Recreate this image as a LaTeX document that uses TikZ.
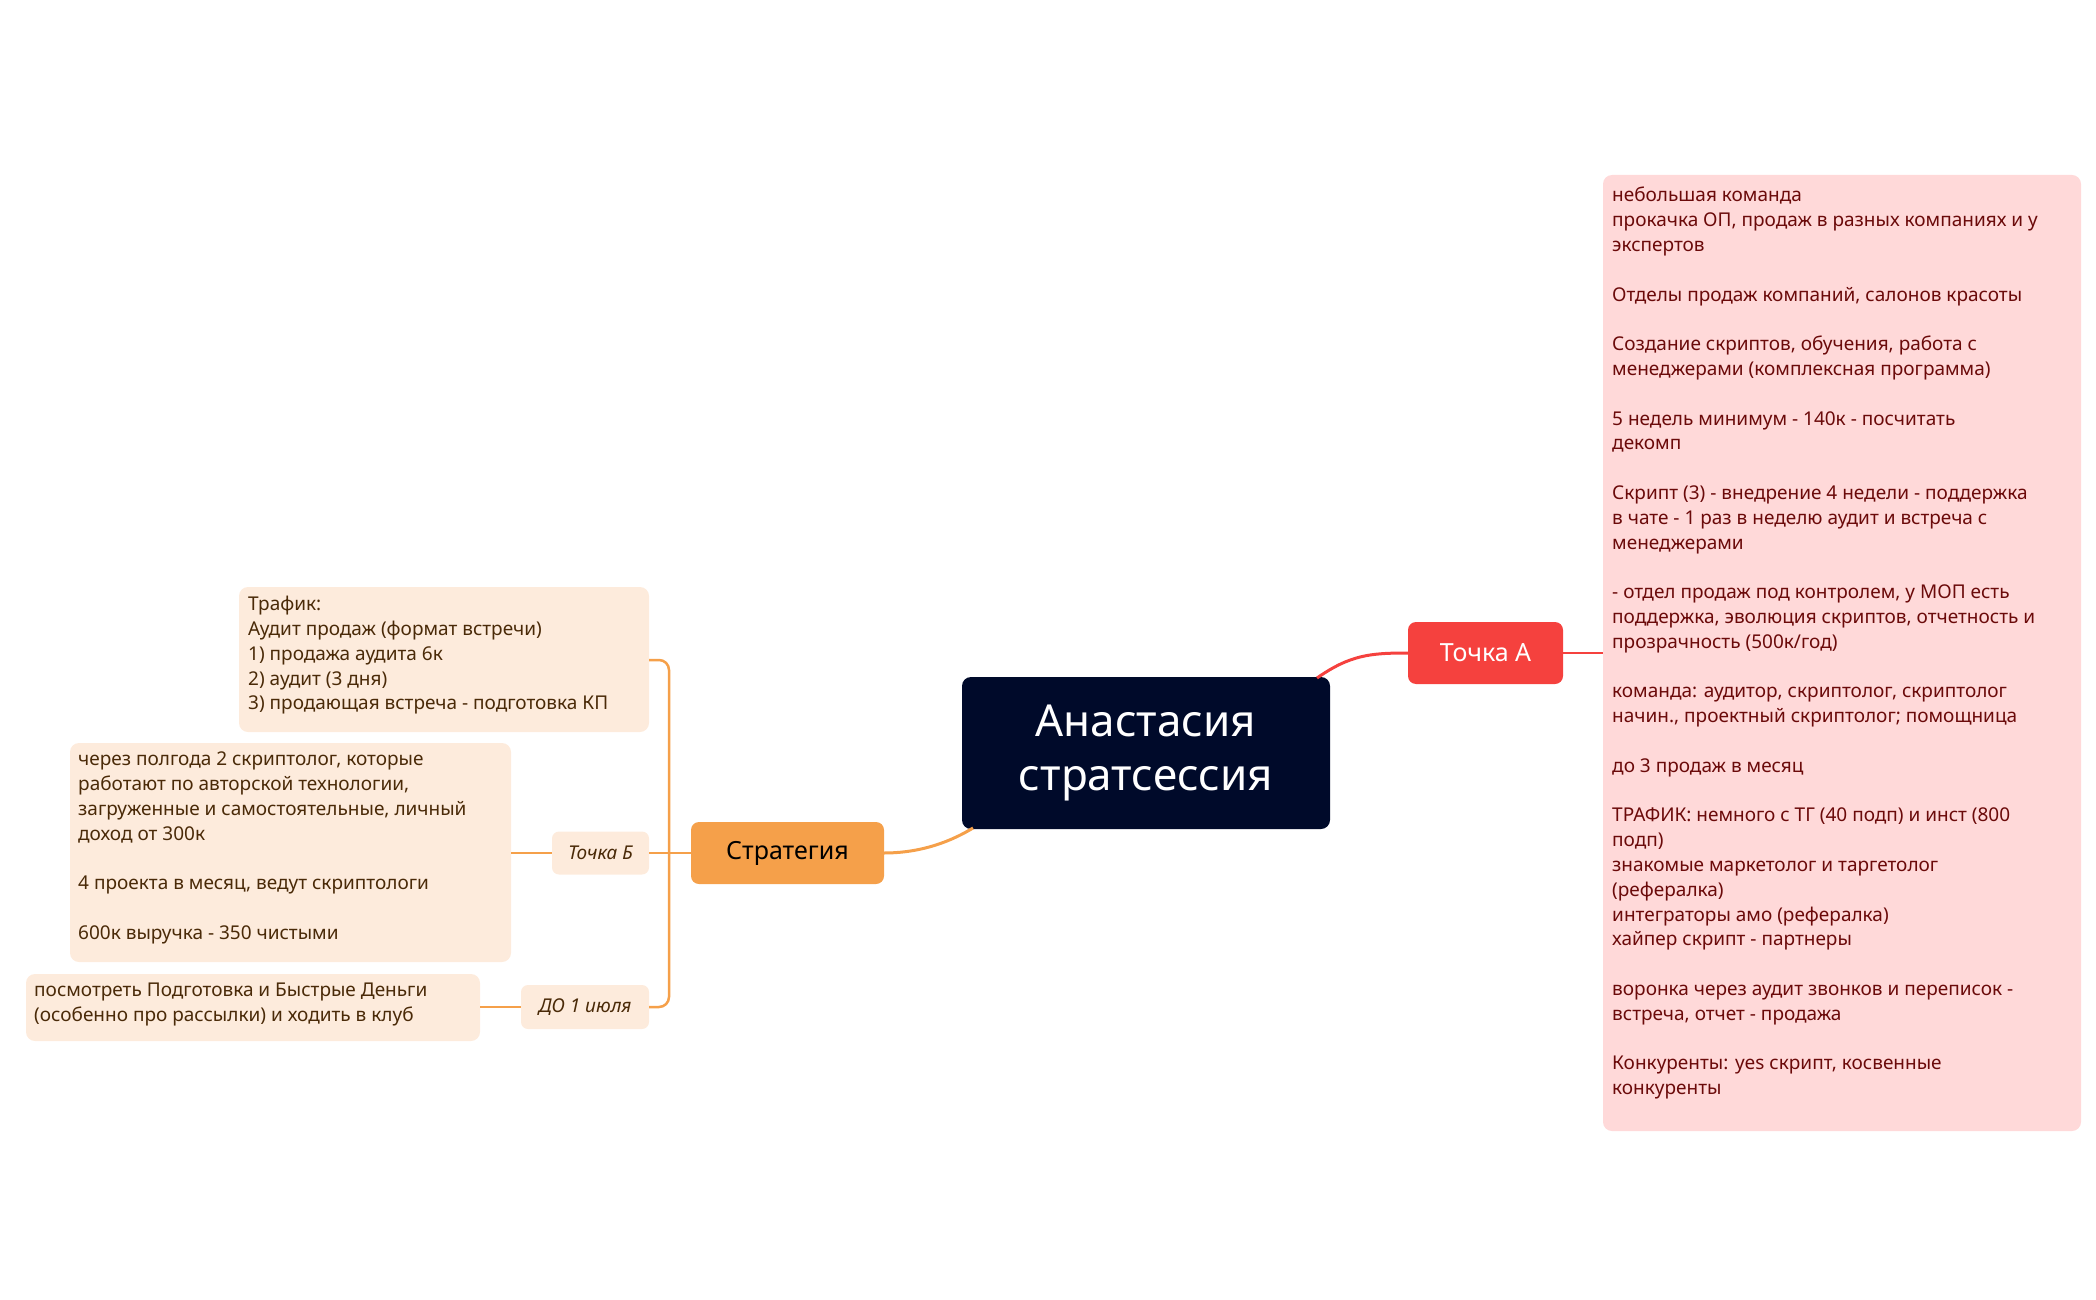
\documentclass[tikz,border=0pt]{standalone}
\usepackage{fontspec}
\setmainfont{Noto Sans}
\usetikzlibrary{positioning}
\definecolor{navy}{HTML}{000A2A}
\definecolor{redA}{HTML}{F5413E}
\definecolor{pinkbg}{HTML}{FFD9D9}
\definecolor{pinktx}{HTML}{6B0A0A}
\definecolor{orangeS}{HTML}{F5A04A}
\definecolor{peach}{HTML}{FDEBDC}
\definecolor{browntx}{HTML}{4A2A08}
\tikzset{
  notebox/.style={rounded corners=8pt,inner sep=0pt,anchor=north west},
  notetext/.style={align=left,anchor=north west,inner sep=0pt,font=\fontsize{19}{24.8}\selectfont},
  label/.style={rounded corners=7pt,fill=peach,text=browntx,font=\fontsize{19}{22}\selectfont\bfseries\itshape}
}
\begin{document}
\begin{tikzpicture}[x=1pt,y=-1pt]
	\useasboundingbox (0,0) rectangle (2096,1300);
	% centre
	\fill[navy,rounded corners=9pt] (962,677) rectangle (1330,829);
	\node[text=white,align=center,font=\fontsize{44}{54}\selectfont\bfseries] (root) at (1146,753) {Анастасия\\стратсессия};
	\coordinate (rootNE) at (1317,678);
	\coordinate (rootSW) at (973,828);
	% Точка А
	\node[fill=redA,text=white,rounded corners=8pt,minimum width=155pt,minimum height=62pt,font=\fontsize{25}{28}\selectfont] (pA) at (1485.5,653) {Точка А};
	\fill[pinkbg,rounded corners=9pt] (1603,175) rectangle (2081,1131);
	\coordinate (pinkL) at (1603,653);
	\node[notetext,text=pinktx] (notesA) at (1612,187) {небольшая команда\\
прокачка ОП, продаж в разных компаниях и у\\
экспертов\\[24.8pt]
Отделы продаж компаний, салонов красоты\\[24.8pt]
Создание скриптов, обучения, работа с\\
менеджерами (комплексная программа)\\[24.8pt]
\textbf{5 недель минимум - 140к - посчитать}\\
\textbf{декомп}\\[24.8pt]
Скрипт (3) - внедрение 4 недели - поддержка\\
в чате - 1 раз в неделю аудит и встреча с\\
менеджерами\\[24.8pt]
- отдел продаж под контролем, у МОП есть\\
поддержка, эволюция скриптов, отчетность и\\
прозрачность (500к/год)\\[24.8pt]
команда: аудитор, скриптолог, скриптолог\\
начин., проектный скриптолог; помощница\\[24.8pt]
до 3 продаж в месяц\\[24.8pt]
\textbf{ТРАФИК:} немного с ТГ (40 подп) и инст (800\\
подп)\\
знакомые маркетолог и таргетолог\\
(рефералка)\\
интеграторы амо (рефералка)\\
хайпер скрипт - партнеры\\[24.8pt]
воронка через аудит звонков и переписок -\\
встреча, отчет - продажа\\[24.8pt]
\textbf{Конкуренты}: yes скрипт, косвенные\\
конкуренты};
	% Стратегия
	\node[fill=orangeS,text=black,rounded corners=8pt,minimum width=193pt,minimum height=62pt,font=\fontsize{25}{28}\selectfont\bfseries] (strat) at (787.5,853) {Стратегия};
	\fill[peach,rounded corners=9pt] (239,587) rectangle (649,732);
	\node[notetext,text=browntx] (traf) at (248,596) {\textbf{Трафик:}\\
\textbf{Аудит продаж (формат встречи)}\\
1) продажа аудита 6к\\
2) аудит (3 дня)\\
3) продающая встреча - подготовка КП};
	\coordinate (trafR) at (649,660);
	\node[label,minimum width=97pt,minimum height=43pt] (pB) at (600.5,853) {Точка Б};
	\fill[peach,rounded corners=9pt] (70,743) rectangle (511,962);
	\node[notetext,text=browntx] (notesB) at (78,752) {через полгода 2 скриптолог, которые\\
работают по авторской технологии,\\
загруженные и самостоятельные, личный\\
доход от 300к\\[24.8pt]
4 проекта в месяц, ведут скриптологи\\[24.8pt]
600к выручка - 350 чистыми};
	\coordinate (notesBR) at (511,853);
	\node[label,minimum width=128pt,minimum height=44pt] (july) at (585,1007) {ДО 1 июля};
	\fill[peach,rounded corners=9pt] (26,974) rectangle (480,1041);
	\node[notetext,text=browntx] (notesJ) at (34,983) {посмотреть Подготовка и Быстрые Деньги\\
(особенно про рассылки) и ходить в клуб};
	\coordinate (notesJR) at (480,1007);
	% connectors
	\draw[redA,line width=3pt] (rootNE) .. controls (1350,655) and (1370,653) .. (pA.west);
	\draw[redA,line width=2.5pt] (pA.east) -- (pinkL);
	\draw[orangeS,line width=3pt] (rootSW) .. controls (945,845) and (915,853) .. (strat.east);
	\draw[orangeS,line width=2.5pt,rounded corners=10pt] (trafR) -| (669,853) |- (july.east);
	\draw[orangeS,line width=2.5pt] (strat.west) -- (pB.east);
	\draw[orangeS,line width=2.5pt] (pB.west) -- (notesBR);
	\draw[orangeS,line width=2.5pt] (july.west) -- (notesJR);
\end{tikzpicture}
\end{document}
